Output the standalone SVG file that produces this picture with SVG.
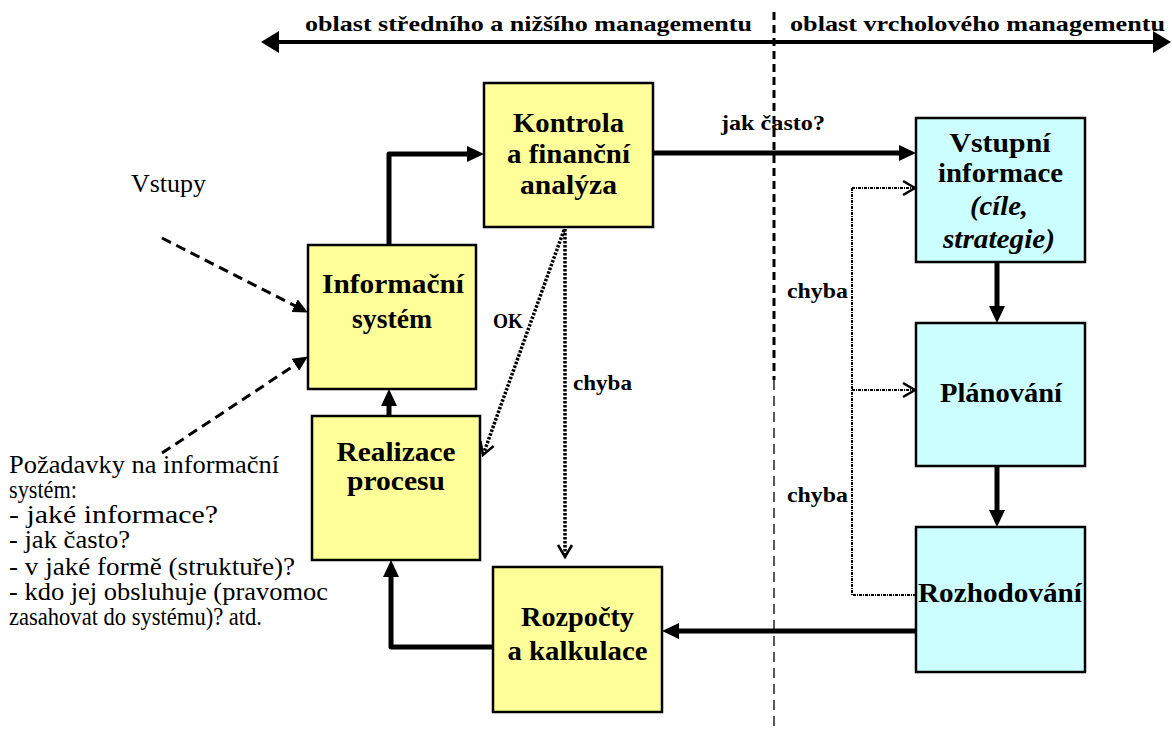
<svg xmlns="http://www.w3.org/2000/svg" width="1172" height="731" viewBox="0 0 1172 731">
  <style>
    .box-y { fill: #FFFF99; stroke: #000; stroke-width: 2.5; }
    .box-c { fill: #CCFFFF; stroke: #000; stroke-width: 2.5; }
    text { font-family: "Liberation Serif", "Times New Roman", Tinos, "DejaVu Serif", serif; fill: #000; }
    .lbl { font-weight: bold; font-size: 27px; text-anchor: middle; }
    .lbl-i { font-style: italic; }
    .note { font-size: 25px; }
    .tag { font-weight: bold; font-size: 22px; }
    .thick { fill: none; stroke: #000; stroke-width: 5; stroke-linejoin: round; }
    .dashed { fill: none; stroke: #000; stroke-width: 3; stroke-dasharray: 10 6; }
    .dotted { fill: none; stroke: #000; stroke-width: 3.5; stroke-dasharray: 2.5 1.5; }
    .dashdot { fill: none; stroke: #000; stroke-width: 2; stroke-dasharray: 3 1 1 1; }
  </style>
  <defs>
    <marker id="head" viewBox="0 0 17 16" refX="8.5" refY="8" markerWidth="17" markerHeight="16" markerUnits="userSpaceOnUse" orient="auto">
      <path d="M0,0 L17,8 L0,16 z" fill="#000"/>
    </marker>
    <marker id="headL" viewBox="0 0 18 22" refX="9" refY="11" markerWidth="18" markerHeight="22" markerUnits="userSpaceOnUse" orient="auto-start-reverse">
      <path d="M0,0 L18,11 L0,22 z" fill="#000"/>
    </marker>
    <marker id="headS" viewBox="0 0 15 14" refX="7" refY="7" markerWidth="15" markerHeight="14" markerUnits="userSpaceOnUse" orient="auto">
      <path d="M0,0 L15,7 L0,14 z" fill="#000"/>
    </marker>
    <marker id="vee" viewBox="-2 -2 16 18" refX="12" refY="7" markerWidth="16" markerHeight="18" markerUnits="userSpaceOnUse" orient="auto" overflow="visible">
      <path d="M0,0 L12,7 L0,14" fill="none" stroke="#000" stroke-width="2.5"/>
    </marker>
  </defs>

  <rect width="1172" height="731" fill="#fff"/>

  <!-- management scope axis -->
  <g id="scope">
    <path d="M270,42 L1162,42" fill="none" stroke="#000" stroke-width="4" marker-start="url(#headL)" marker-end="url(#headL)"/>
    <text class="tag" x="305" y="31" textLength="447" lengthAdjust="spacingAndGlyphs">oblast středního a nižšího managementu</text>
    <text class="tag" x="790" y="31" textLength="375" lengthAdjust="spacingAndGlyphs">oblast vrcholového managementu</text>
    <path d="M774,12 L774,380" fill="none" stroke="#000" stroke-width="3" stroke-dasharray="8 5"/>
    <path d="M774,380 L774,731" fill="none" stroke="#000" stroke-width="1.3" stroke-dasharray="10 6"/>
  </g>

  <!-- nodes -->
  <g id="kontrola">
    <rect class="box-y" x="484" y="83" width="169" height="144"/>
    <text class="lbl" x="568.5" y="132" textLength="111" lengthAdjust="spacingAndGlyphs">Kontrola</text>
    <text class="lbl" x="568.5" y="163" textLength="123" lengthAdjust="spacingAndGlyphs">a finanční</text>
    <text class="lbl" x="568.5" y="194" textLength="97" lengthAdjust="spacingAndGlyphs">analýza</text>
  </g>
  <g id="informacni-system">
    <rect class="box-y" x="308" y="245" width="168" height="144"/>
    <text class="lbl" x="393" y="293" textLength="142" lengthAdjust="spacingAndGlyphs">Informační</text>
    <text class="lbl" x="392" y="328" textLength="80" lengthAdjust="spacingAndGlyphs">systém</text>
  </g>
  <g id="realizace">
    <rect class="box-y" x="312" y="416" width="168" height="144"/>
    <text class="lbl" x="396" y="461" textLength="119" lengthAdjust="spacingAndGlyphs">Realizace</text>
    <text class="lbl" x="396" y="490" textLength="98" lengthAdjust="spacingAndGlyphs">procesu</text>
  </g>
  <g id="rozpocty">
    <rect class="box-y" x="493" y="567" width="169" height="145"/>
    <text class="lbl" x="577.5" y="626" textLength="113" lengthAdjust="spacingAndGlyphs">Rozpočty</text>
    <text class="lbl" x="577.5" y="660" textLength="140" lengthAdjust="spacingAndGlyphs">a kalkulace</text>
  </g>
  <g id="vstupni-informace">
    <rect class="box-c" x="916" y="118" width="169" height="144"/>
    <text class="lbl" x="1000" y="152" textLength="101" lengthAdjust="spacingAndGlyphs">Vstupní</text>
    <text class="lbl" x="1000.5" y="182" textLength="125" lengthAdjust="spacingAndGlyphs">informace</text>
    <text class="lbl lbl-i" x="999" y="215" textLength="58" lengthAdjust="spacingAndGlyphs">(cíle,</text>
    <text class="lbl lbl-i" x="999" y="248" textLength="112" lengthAdjust="spacingAndGlyphs">strategie)</text>
  </g>
  <g id="planovani">
    <rect class="box-c" x="916" y="323" width="169" height="143"/>
    <text class="lbl" x="1001" y="402" textLength="122" lengthAdjust="spacingAndGlyphs">Plánování</text>
  </g>
  <g id="rozhodovani">
    <rect class="box-c" x="916" y="527" width="169" height="145"/>
    <text class="lbl" x="1000" y="602" textLength="164" lengthAdjust="spacingAndGlyphs">Rozhodování</text>
  </g>

  <!-- free notes -->
  <g id="vstupy">
    <text class="note" x="131" y="192" textLength="75" lengthAdjust="spacingAndGlyphs" style="font-size:26px">Vstupy</text>
  </g>
  <g id="pozadavky">
    <text class="note" x="9" y="473" textLength="270" lengthAdjust="spacingAndGlyphs">Požadavky na informační</text>
    <text class="note" x="9" y="498" textLength="68" lengthAdjust="spacingAndGlyphs">systém:</text>
    <text class="note" x="9" y="523" textLength="209" lengthAdjust="spacingAndGlyphs">- jaké informace?</text>
    <text class="note" x="9" y="548" textLength="121" lengthAdjust="spacingAndGlyphs">- jak často?</text>
    <text class="note" x="9" y="575" textLength="286" lengthAdjust="spacingAndGlyphs">- v jaké formě (struktuře)?</text>
    <text class="note" x="9" y="600" textLength="319" lengthAdjust="spacingAndGlyphs">- kdo jej obsluhuje (pravomoc</text>
    <text class="note" x="9" y="625" textLength="253" lengthAdjust="spacingAndGlyphs">zasahovat do systému)? atd.</text>
  </g>

  <!-- connectors -->
  <g id="connectors">
    <path class="thick" d="M389,245 L389,154 L475.5,154" marker-end="url(#head)"/>
    <path class="thick" d="M653,153 L907.5,153" marker-end="url(#head)"/>
    <path class="thick" d="M389,416 L389,397.5" marker-end="url(#head)"/>
    <path class="thick" d="M493,647 L391,647 L391,568.5" marker-end="url(#head)"/>
    <path class="thick" d="M916,631 L670.5,631" marker-end="url(#head)"/>
    <path class="thick" d="M997,262 L997,314.5" marker-end="url(#head)"/>
    <path class="thick" d="M997,466 L997,518.5" marker-end="url(#head)"/>

    <path class="dashed" d="M162,238 L300.8,308.8" marker-end="url(#headS)"/>
    <path class="dashed" d="M162,453 L301.2,360.9" marker-end="url(#headS)"/>

    <path class="dotted" d="M565,229 L565,557" marker-end="url(#vee)"/>
    <path class="dotted" d="M564,230 L483,455" marker-end="url(#vee)"/>

    <path class="dashdot" d="M852,188 L852,595 L916,595"/>
    <path class="dashdot" d="M852,188 L915,188" marker-end="url(#vee)"/>
    <path class="dashdot" d="M852,390 L915,390" marker-end="url(#vee)"/>

    <text class="tag" x="721" y="130" textLength="104" lengthAdjust="spacingAndGlyphs">jak často?</text>
    <text class="tag" x="493" y="328" textLength="30" lengthAdjust="spacingAndGlyphs" style="font-size:20px">OK</text>
    <text class="tag" x="573" y="390" textLength="59" lengthAdjust="spacingAndGlyphs">chyba</text>
    <text class="tag" x="787" y="298" textLength="61" lengthAdjust="spacingAndGlyphs">chyba</text>
    <text class="tag" x="787" y="502" textLength="61" lengthAdjust="spacingAndGlyphs">chyba</text>
  </g>
</svg>
